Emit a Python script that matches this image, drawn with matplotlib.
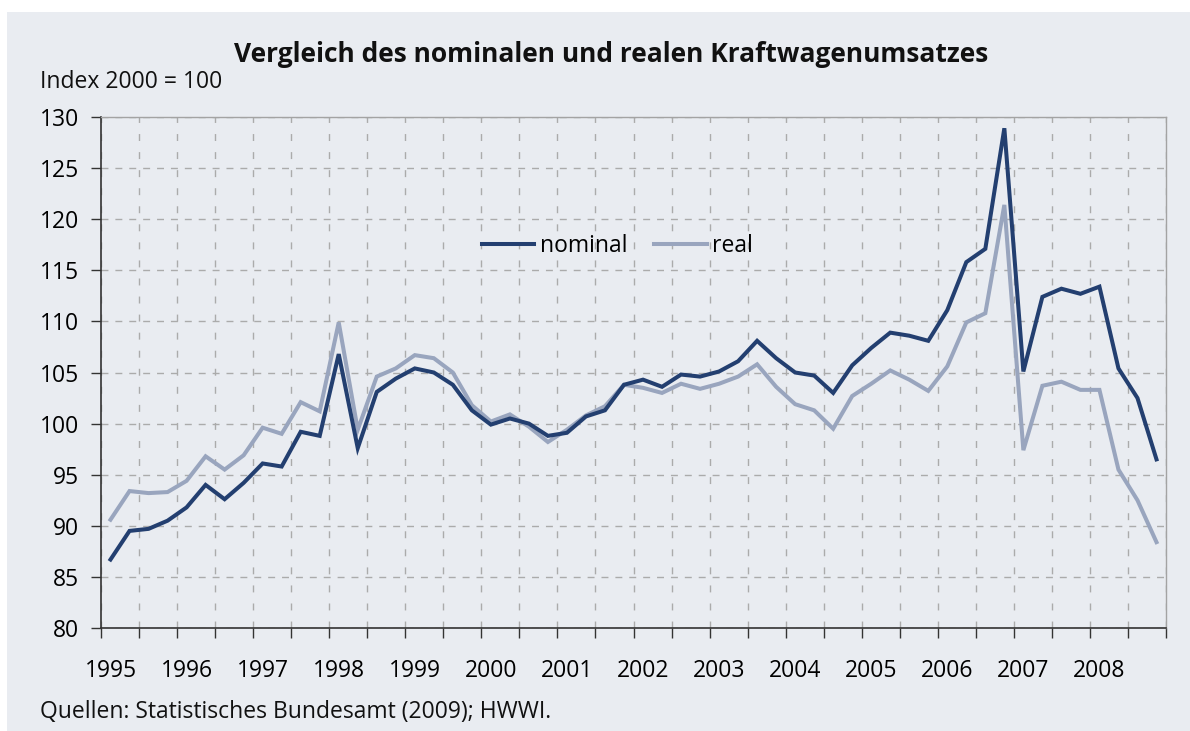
import numpy as np
import matplotlib
matplotlib.use('Agg')
import matplotlib.pyplot as plt
from matplotlib.patches import Rectangle
from matplotlib.ticker import FixedLocator

plt.rcParams['font.family'] = ['Open Sans', 'DejaVu Sans']

# quarterly index values, 2000 = 100 (Q1 1995 .. Q4 2008)
years = list(range(1995, 2009))
nominal = [86.7, 89.5, 89.7, 90.5, 91.8, 94.0, 92.6, 94.2,
           96.1, 95.8, 99.2, 98.8, 106.8, 97.6, 103.1, 104.4,
           105.4, 105.0, 103.8, 101.3, 99.9, 100.5, 100.0, 98.8,
           99.1, 100.7, 101.3, 103.8, 104.3, 103.6, 104.8, 104.6,
           105.1, 106.1, 108.1, 106.4, 105.0, 104.7, 103.0, 105.7,
           107.4, 108.9, 108.6, 108.1, 111.1, 115.8, 117.1, 128.9,
           105.1, 112.4, 113.2, 112.7, 113.4, 105.4, 102.5, 96.5]
real = [90.6, 93.4, 93.2, 93.3, 94.4, 96.8, 95.5, 96.9,
        99.6, 99.0, 102.1, 101.2, 109.9, 99.4, 104.6, 105.4,
        106.7, 106.4, 105.0, 101.8, 100.2, 100.9, 99.7, 98.2,
        99.4, 100.8, 101.7, 103.8, 103.5, 103.0, 103.9, 103.4,
        103.9, 104.6, 105.8, 103.6, 101.9, 101.3, 99.5, 102.7,
        103.9, 105.2, 104.3, 103.2, 105.6, 109.9, 110.8, 121.4,
        97.4, 103.7, 104.1, 103.3, 103.3, 95.5, 92.5, 88.4]

bg = '#e9ecf1'
c_nom = '#233f70'
c_real = '#99a5be'
grid_c = '#ababab'
fs = 16.5

fig = plt.figure(figsize=(11.9, 7.31), dpi=100, facecolor='white')
fig.patches.append(Rectangle((7 / 1190, 0), 1, 1 - 12 / 731, transform=fig.transFigure,
                             facecolor=bg, edgecolor='none', zorder=-10))

ax = fig.add_axes([101 / 1190, 1 - 628 / 731, 1065 / 1190, 511 / 731])
ax.set_facecolor(bg)

x = np.arange(len(nominal))
ax.plot(x, nominal, color=c_nom, lw=2.9, label='nominal', solid_joinstyle='miter', zorder=3)
ax.plot(x, real, color=c_real, lw=2.9, label='real', solid_joinstyle='miter', zorder=2)

ax.set_xlim(-0.5, len(nominal) - 0.5)
ax.set_ylim(80, 130)
ax.set_yticks(np.arange(80, 131, 5))

# tick marks every two quarters, year labels on first quarter
ax.xaxis.set_major_locator(FixedLocator(np.arange(-0.5, len(nominal), 2)))
ax.set_xticklabels([])
ax.xaxis.set_minor_locator(FixedLocator(np.arange(0, len(nominal), 4)))
ax.set_xticklabels([str(yr) for yr in years], minor=True)
ax.tick_params(axis='x', which='minor', length=0, pad=22, labelsize=fs)
ax.tick_params(axis='x', which='major', length=7, width=1, color='#333333', direction='out')
ax.tick_params(axis='y', length=7, width=1, color='#333333', direction='out', pad=9, labelsize=fs)

ax.yaxis.grid(True, color=grid_c, linestyle=(0, (5, 5)), linewidth=1)
ax.xaxis.grid(True, which='major', color=grid_c, linestyle=(0, (5, 8)), linewidth=1)
ax.set_axisbelow(True)

for s in ['top', 'right']:
    ax.spines[s].set_color('#a3a3a3')
    ax.spines[s].set_linewidth(1)
for s in ['left', 'bottom']:
    ax.spines[s].set_color('#333333')
    ax.spines[s].set_linewidth(1.2)

leg = ax.legend(loc='center', bbox_to_anchor=(0.485, 0.747), ncol=2, frameon=False,
                fontsize=fs, handlelength=2.3, handletextpad=0.25, columnspacing=1.15)

fig.text(611 / 1190, 1 - 55 / 731, 'Vergleich des nominalen und realen Kraftwagenumsatzes',
         ha='center', va='center', fontsize=19, fontweight='bold', color='#111111')
fig.text(40 / 1190, 1 - 82 / 731, 'Index 2000 = 100', ha='left', va='center', fontsize=fs, color='#111111')
fig.text(40 / 1190, 1 - 712 / 731, 'Quellen: Statistisches Bundesamt (2009); HWWI.',
         ha='left', va='center', fontsize=fs, color='#111111')

plt.savefig('out.png', dpi=100, facecolor=fig.get_facecolor())
